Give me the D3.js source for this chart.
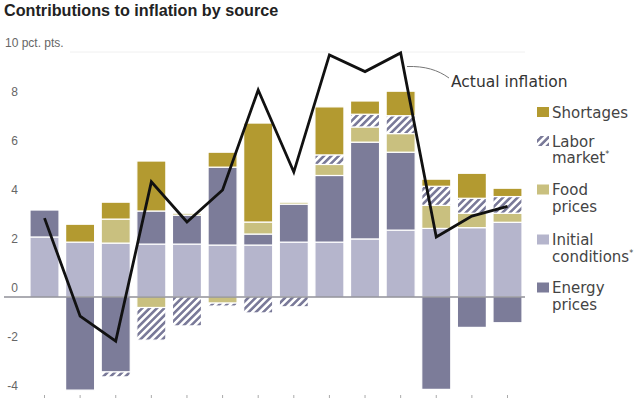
<!DOCTYPE html>
<html>
<head>
<meta charset="utf-8">
<script src="https://cdn.jsdelivr.net/npm/d3@7"></script>
<style>
  html, body { margin: 0; padding: 0; background: #ffffff; }
  svg { display: block; font-family: "Liberation Sans", Arial, sans-serif; }
</style>
</head>
<body>
<svg id="chart" width="640" height="402"></svg>
<script>
// ---- Data ----
const categories = ["P1","P2","P3","P4","P5","P6","P7","P8","P9","P10","P11","P12","P13","P14"];
const initialConditions = [2.45, 2.24, 2.2, 2.16, 2.16, 2.12, 2.12, 2.24, 2.24, 2.37, 2.73, 2.8, 2.83, 3.05];
const energyPrices      = [1.1, -3.8, -3.06, 1.35, 1.18, 3.18, 0.45, 1.55, 2.72, 3.95, 3.18, -3.77, -1.24, -1.05];
const foodPrices        = [0, 0, 0.98, -0.43, 0.08, -0.25, 0.49, 0.08, 0.45, 0.62, 0.76, 0.94, 0.59, 0.37];
const laborMarket       = [0, 0, -0.2, -1.33, -1.18, -0.12, -0.65, -0.4, 0.39, 0.52, 0.73, 0.78, 0.61, 0.68];
const shortages         = [0, 0.73, 0.69, 2.04, 0, 0.61, 4.04, 0, 1.96, 0.54, 1.0, 0.29, 1.02, 0.34];
const actualInflation   = [3.22, -0.78, -1.8, 4.7, 3.06, 4.37, 8.45, 5.1, 9.88, 9.2, 9.96, 2.45, 3.3, 3.7];
const yTicks = [-4, -2, 0, 2, 4, 6, 8, 10];
const seriesNames = ["Initial conditions*", "Energy prices", "Food prices", "Labor market*", "Shortages"];
const legendLabels = [["Shortages"], ["Labor", "market*"], ["Food", "prices"], ["Initial", "conditions*"], ["Energy", "prices"]];

// ---- Styles ----
const colors = {
  "Initial conditions*": "#b5b5cc",
  "Energy prices": "#7c7c99",
  "Food prices": "#c9c07f",
  "Labor market*": "url(#hatch)",
  "Shortages": "#b39a30"
};

const svg = d3.select("#chart");

// hatch pattern
const defs = svg.append("defs");
const pat = defs.append("pattern")
  .attr("id", "hatch")
  .attr("patternUnits", "userSpaceOnUse")
  .attr("width", 5.2).attr("height", 5.2)
  .attr("patternTransform", "rotate(45)");
pat.append("rect").attr("width", 5.2).attr("height", 5.2).attr("fill", "#ffffff");
pat.append("line").attr("x1", 1.3).attr("y1", 0).attr("x2", 1.3).attr("y2", 5.2)
  .attr("stroke", "#7a7a99").attr("stroke-width", 2.6);

// ---- Scales ----
const x = d3.scaleBand().domain(categories).range([26.7, 525.3]).paddingInner(0.185).paddingOuter(0.0925);
const y = d3.scaleLinear().domain([-4, 10]).range([395, 52]);

// faint top gridline
svg.append("line")
  .attr("x1", 70).attr("x2", 525)
  .attr("y1", y(10)).attr("y2", y(10))
  .attr("stroke", "#f0f0f0").attr("stroke-width", 1);

// y labels
svg.append("g").selectAll("text").data(yTicks).join("text")
  .attr("x", d => d === 10 ? 5 : 18)
  .attr("y", d => y(d) - 5)
  .attr("text-anchor", d => d === 10 ? "start" : "end")
  .attr("font-size", 12)
  .attr("fill", "#666")
  .text(d => d === 10 ? "10 pct. pts." : String(d));

// ---- Stacked bars (diverging) ----
const seriesValues = [initialConditions, energyPrices, foodPrices, laborMarket, shortages];
const segs = [];
categories.forEach((c, i) => {
  let pos = 0, neg = 0;
  seriesNames.forEach((s, k) => {
    const v = seriesValues[k][i];
    if (v === 0) return;
    if (v > 0) { segs.push({c, s, y0: pos, y1: pos + v}); pos += v; }
    else { segs.push({c, s, y0: neg + v, y1: neg}); neg += v; }
  });
});

svg.append("g").selectAll("rect").data(segs).join("rect")
  .attr("x", d => x(d.c))
  .attr("width", x.bandwidth())
  .attr("y", d => y(d.y1))
  .attr("height", d => y(d.y0) - y(d.y1))
  .attr("fill", d => colors[d.s])
  .attr("stroke", "#ffffff")
  .attr("stroke-width", 1.2);

// zero line
svg.append("line")
  .attr("x1", 4).attr("x2", 525)
  .attr("y1", y(0)).attr("y2", y(0))
  .attr("stroke", "#5a5a66").attr("stroke-width", 1.2);

// bottom tick marks
svg.append("g").selectAll("line").data(categories).join("line")
  .attr("x1", d => x(d) + x.bandwidth() / 2).attr("x2", d => x(d) + x.bandwidth() / 2)
  .attr("y1", 395).attr("y2", 398)
  .attr("stroke", "#aaa").attr("stroke-width", 1);

// ---- Actual inflation line ----
const line = d3.line()
  .x((d, i) => x(categories[i]) + x.bandwidth() / 2)
  .y(d => y(d));
svg.append("path")
  .datum(actualInflation)
  .attr("d", line)
  .attr("fill", "none")
  .attr("stroke", "#111")
  .attr("stroke-width", 2.8)
  .attr("stroke-linejoin", "miter");

// annotation
svg.append("path")
  .attr("d", "M407,66.5 C425,66 438,70 449,78")
  .attr("fill", "none").attr("stroke", "#777").attr("stroke-width", 1);
svg.append("text")
  .attr("x", 451).attr("y", 87)
  .attr("font-family", "'DejaVu Sans', sans-serif")
  .attr("font-size", 15.5).attr("fill", "#333")
  .text("Actual inflation");

// ---- Title ----
svg.append("text")
  .attr("x", 4).attr("y", 16)
  .attr("font-size", 16.2).attr("font-weight", "bold").attr("fill", "#222")
  .text("Contributions to inflation by source");

// ---- Legend ----
const legendSeries = ["Shortages", "Labor market*", "Food prices", "Initial conditions*", "Energy prices"];
const legendBase = [117.5, 146.5, 195, 245, 293];
const lg = svg.append("g").selectAll("g").data(legendSeries).join("g");
lg.append("rect")
  .attr("x", 537).attr("y", (d, i) => legendBase[i] - 10.5)
  .attr("width", 12).attr("height", 10)
  .attr("fill", d => colors[d]);
lg.each(function(d, i) {
  const t = d3.select(this).append("text")
    .attr("x", 552).attr("y", legendBase[i])
    .attr("font-family", "'DejaVu Sans', sans-serif")
    .attr("font-size", 15).attr("fill", "#444");
  legendLabels[i].forEach((ln, j) => {
    const star = ln.endsWith("*");
    t.append("tspan").attr("x", 552).attr("dy", j === 0 ? 0 : 16.5).text(star ? ln.slice(0, -1) : ln);
    if (star) {
      t.append("tspan").attr("font-size", 8).attr("dy", -6).text("*");
      t.append("tspan").attr("font-size", 8).attr("dy", 6).text("");
    }
  });
});
</script>
</body>
</html>
